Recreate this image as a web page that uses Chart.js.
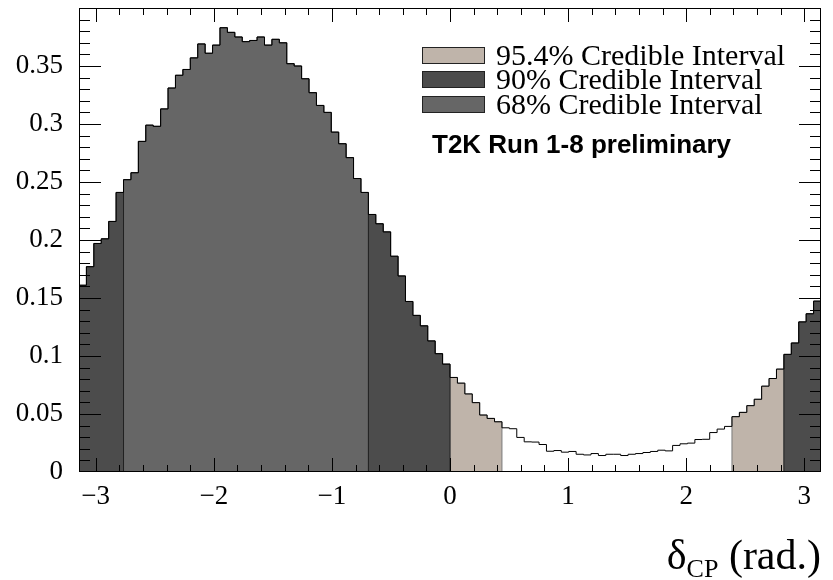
<!DOCTYPE html>
<html>
<head>
<meta charset="utf-8">
<script src="https://cdn.jsdelivr.net/npm/chart.js@4.4.0/dist/chart.umd.min.js"></script>
<style>
html,body{margin:0;padding:0;background:#fff;}
#wrap{position:relative;width:833px;height:580px;overflow:hidden;background:#fff;}
#c{position:absolute;left:0;top:0;}
.txt{position:absolute;white-space:nowrap;line-height:1;color:#000;}
.serif{font-family:"Liberation Serif","Times New Roman",serif;}
.sans{font-family:"Liberation Sans",Arial,sans-serif;font-weight:bold;}
.sw{position:absolute;box-sizing:border-box;border:1px solid #222;}
</style>
</head>
<body>
<div id="wrap">
  <canvas id="c" width="833" height="580"></canvas>
</div>
<script>
// ---- data ----
const NBINS = 100;
const X_MIN = -Math.PI;
const X_MAX = Math.PI;

// posterior probability per bin of delta_CP (100 bins from -pi to pi)
const posterior = [
  0.161, 0.177, 0.197, 0.201, 0.216, 0.241, 0.252, 0.258, 0.285, 0.299,
  0.298, 0.313, 0.331, 0.342, 0.347, 0.357, 0.369, 0.361, 0.368, 0.383,
  0.379, 0.375, 0.371, 0.372, 0.375, 0.368, 0.373, 0.370, 0.352, 0.350,
  0.339, 0.327, 0.316, 0.310, 0.293, 0.283, 0.271, 0.253, 0.241, 0.222,
  0.214, 0.207, 0.186, 0.169, 0.147, 0.135, 0.126, 0.113, 0.102, 0.093,
  0.0815, 0.0766, 0.0673, 0.0598, 0.0491, 0.0462, 0.0433, 0.0381, 0.0373, 0.0298,
  0.0260, 0.0258, 0.0237, 0.0179, 0.0185, 0.0171, 0.0177, 0.0153, 0.0147, 0.0159,
  0.0142, 0.0153, 0.0153, 0.0142, 0.0153, 0.0159, 0.0168, 0.0177, 0.0188, 0.0182,
  0.0229, 0.0243, 0.0249, 0.0280, 0.0282, 0.0340, 0.0370, 0.0393, 0.0477, 0.0514,
  0.0572, 0.0627, 0.0740, 0.0806, 0.0887, 0.1014, 0.1112, 0.1294, 0.1364, 0.1473
];

// credible intervals as inclusive bin ranges
const interval68  = [[6, 38]];
const interval90  = [[0, 5], [39, 49], [95, 99]];
const interval954 = [[50, 56], [88, 94]];

const xTickValues = [-3, -2, -1, 0, 1, 2, 3];
const xTickLabels = ['\u22123', '\u22122', '\u22121', '0', '1', '2', '3'];
const yTickValues = [0, 0.05, 0.1, 0.15, 0.2, 0.25, 0.3, 0.35];
const yTickLabels = ['0', '0.05', '0.1', '0.15', '0.2', '0.25', '0.3', '0.35'];

const legendLabels = ['95.4% Credible Interval', '90% Credible Interval', '68% Credible Interval'];
const legendColors = ['#bfb4aa', '#4c4c4c', '#666666'];
const annotation = 'T2K Run 1-8 preliminary';

// ---- build ----
const binEdges = [];
for (let i = 0; i <= NBINS; i++) binEdges.push(X_MIN + i * (X_MAX - X_MIN) / NBINS);

function segmentPoints(lo, hi) {
  const pts = [{x: binEdges[lo], y: 0}];
  for (let i = lo; i <= hi; i++) pts.push({x: binEdges[i], y: posterior[i]});
  pts.push({x: binEdges[hi + 1], y: 0});
  return pts;
}
const outlinePts = [];
for (let i = 0; i < NBINS; i++) outlinePts.push({x: binEdges[i], y: posterior[i]});
outlinePts.push({x: binEdges[NBINS], y: posterior[NBINS - 1]});

const base = {type: 'line', stepped: true, pointRadius: 0, borderWidth: 1, fill: 'origin'};
const datasets = [
  Object.assign({}, base, {label: 'outline', data: outlinePts, fill: false, borderColor: '#000', backgroundColor: 'rgba(0,0,0,0)'})
];
interval68.forEach(r => datasets.push(Object.assign({}, base, {label: legendLabels[2], data: segmentPoints(r[0], r[1]), backgroundColor: legendColors[2], borderColor: '#222'})));
interval90.forEach(r => datasets.push(Object.assign({}, base, {label: legendLabels[1], data: segmentPoints(r[0], r[1]), backgroundColor: legendColors[1], borderColor: '#222'})));
interval954.forEach(r => datasets.push(Object.assign({}, base, {label: legendLabels[0], data: segmentPoints(r[0], r[1]), backgroundColor: legendColors[0], borderColor: '#7a7a7a'})));

const tickFont = {family: '"Liberation Serif", "Times New Roman", serif', size: 27};

const rootFrame = {
  id: 'rootFrame',
  afterDatasetsDraw(chart) {
    const {ctx, chartArea: a, scales: {x, y}} = chart;
    ctx.save();
    ctx.strokeStyle = '#000';
    ctx.lineWidth = 1;
    ctx.beginPath();
    for (let k = -15; k <= 15; k++) {
      const v = k * 0.2;
      if (v < X_MIN || v > X_MAX) continue;
      const px = Math.round(x.getPixelForValue(v)) + 0.5;
      const len = (k % 5 === 0) ? 14 : 7;
      ctx.moveTo(px, a.bottom); ctx.lineTo(px, a.bottom - len);
      ctx.moveTo(px, a.top); ctx.lineTo(px, a.top + len);
    }
    for (let k = 1; k < 40; k++) {
      const v = k * 0.01;
      const py = Math.round(y.getPixelForValue(v)) + 0.5;
      const len = (k % 5 === 0) ? 22 : 11;
      ctx.moveTo(a.left, py); ctx.lineTo(a.left + len, py);
      ctx.moveTo(a.right, py); ctx.lineTo(a.right - len, py);
    }
    ctx.stroke();
    ctx.strokeRect(a.left + 0.5, a.top + 0.5, a.right - a.left - 1, a.bottom - a.top - 1);
    ctx.restore();
  }
};

new Chart(document.getElementById('c').getContext('2d'), {
  type: 'line',
  data: {datasets},
  options: {
    responsive: false,
    animation: false,
    devicePixelRatio: 1,
    layout: {padding: {top: 8, right: 12, left: 0, bottom: 0}},
    plugins: {legend: {display: false}, tooltip: {enabled: false}},
    scales: {
      x: {
        type: 'linear', min: X_MIN, max: X_MAX,
        afterBuildTicks: s => { s.ticks = xTickValues.map(v => ({value: v})); },
        afterFit: s => { s.height = 108; s.paddingLeft = 0; s.paddingRight = 0; },
        grid: {display: false},
        border: {display: false},
        ticks: {
          font: tickFont, color: '#000', padding: 1, maxRotation: 0, autoSkip: false,
          callback: v => { const i = xTickValues.indexOf(v); return i >= 0 ? xTickLabels[i] : ''; }
        }
      },
      y: {
        type: 'linear', min: 0, max: 0.4,
        afterBuildTicks: s => { s.ticks = yTickValues.map(v => ({value: v})); },
        afterFit: s => { s.width = 79; s.paddingTop = 0; s.paddingBottom = 0; },
        grid: {display: false},
        border: {display: false},
        ticks: {
          font: tickFont, color: '#000', padding: 8, autoSkip: false,
          callback: v => { const i = yTickValues.findIndex(t => Math.abs(t - v) < 1e-9); return i >= 0 ? yTickLabels[i] : ''; }
        }
      }
    }
  },
  plugins: [rootFrame]
});

// ---- overlay texts (legend, annotation, axis title) ----
const wrap = document.getElementById('wrap');
const rowsCenter = [55, 79.5, 104];
legendLabels.forEach((lab, i) => {
  const sw = document.createElement('div');
  sw.className = 'sw';
  sw.style.left = '422px'; sw.style.width = '63px';
  sw.style.top = (rowsCenter[i] - 8.5) + 'px'; sw.style.height = '17px';
  sw.style.background = legendColors[i];
  wrap.appendChild(sw);
  const t = document.createElement('div');
  t.className = 'txt serif';
  t.style.fontSize = '30px';
  t.style.left = '496px';
  t.style.top = (rowsCenter[i] + 9.9 - 25.1) + 'px';
  t.textContent = lab;
  wrap.appendChild(t);
});
const ann = document.createElement('div');
ann.className = 'txt sans';
ann.style.fontSize = '26px';
ann.style.left = '432px';
ann.style.top = '131px';
ann.textContent = annotation;
wrap.appendChild(ann);

const title = document.createElement('div');
title.className = 'txt serif';
title.style.fontSize = '42px';
title.style.right = '12px';
title.style.top = '534px';
title.innerHTML = '\u03b4<sub style="font-size:0.62em;vertical-align:-0.3em;line-height:0">CP</sub> (rad.)';
wrap.appendChild(title);
</script>
</body>
</html>
